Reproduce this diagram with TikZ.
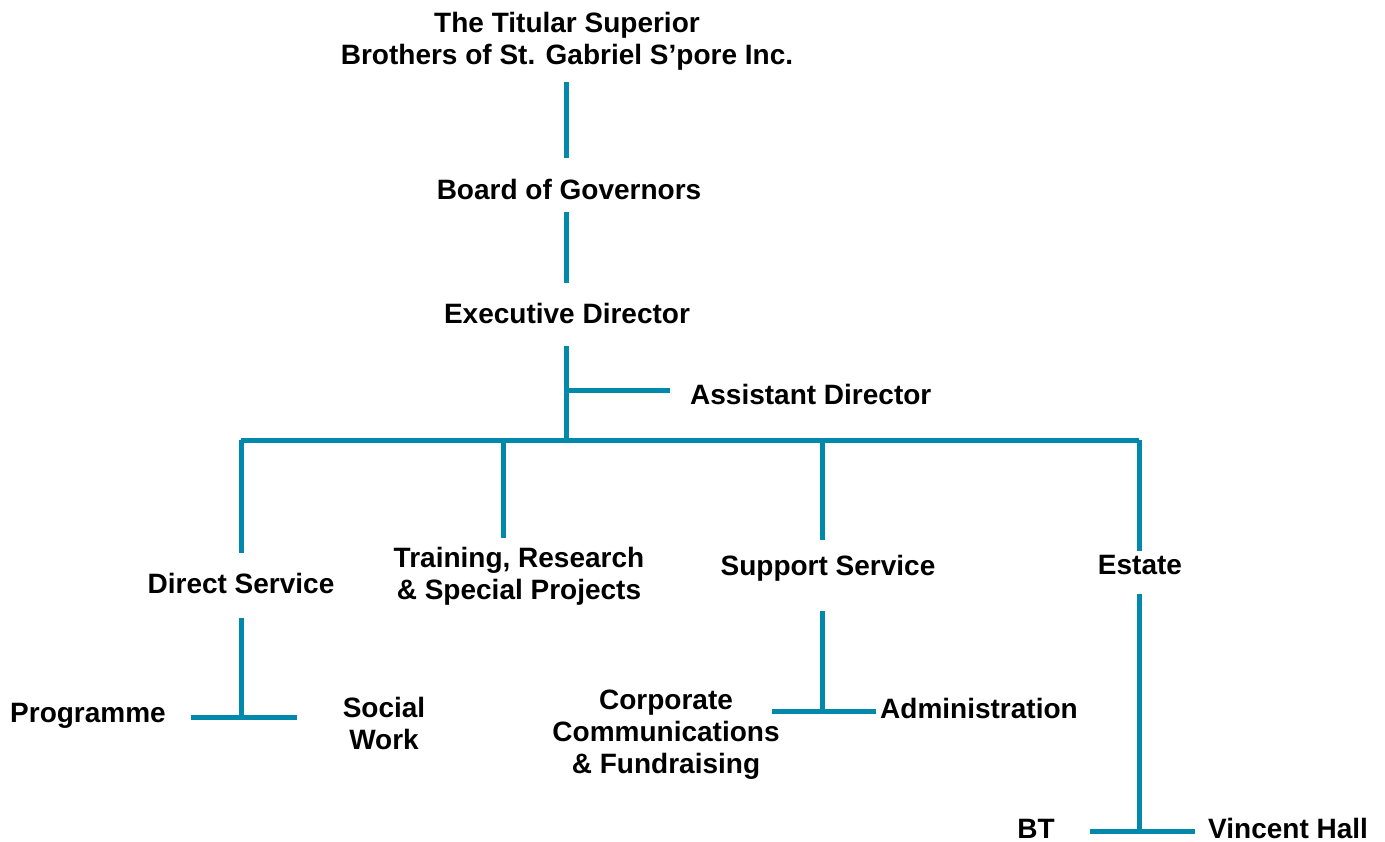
\documentclass[tikz,border=0pt]{standalone}
\usepackage{fontspec}
\setmainfont{Liberation Sans}[BoldFont={Liberation Sans Bold}]
\definecolor{linec}{RGB}{0,137,171}
\begin{document}
\begin{tikzpicture}[x=1pt,y=-1pt,
  lbl/.style={font=\bfseries\fontsize{28}{32}\selectfont, inner sep=0pt, align=center, text depth=0pt},
  conn/.style={draw=linec, line width=5pt}]
\useasboundingbox (0,0) rectangle (1385,842);
% text nodes
\node[lbl] (tit) at (567,38) {The Titular Superior\\Brothers of St. Gabriel S’pore Inc.};
\node[lbl] (bog) at (569,189) {Board of Governors};
\node[lbl] (ed) at (567,313) {Executive Director};
\node[lbl, anchor=west] (ad) at (690,394) {Assistant Director};
\node[lbl] (ds) at (241,583) {Direct Service};
\node[lbl] (trs) at (519,573) {Training, Research\\\& Special Projects};
\node[lbl] (ss) at (828,565) {Support Service};
\node[lbl] (est) at (1140,565) {Estate};
\node[lbl, anchor=west] (prog) at (10,713) {Programme};
\node[lbl] (sw) at (384,723) {Social\\Work};
\node[lbl] (ccf) at (666,732) {Corporate\\Communications\\\& Fundraising};
\node[lbl, anchor=west] (adm) at (880,708) {Administration};
\node[lbl] (bt) at (1036,829) {BT};
\node[lbl, anchor=west] (vh) at (1208,828) {Vincent Hall};
% coordinates
\coordinate (t1) at (566,82);
\coordinate (t2) at (566,158);
\coordinate (b1) at (566,212);
\coordinate (b2) at (566,283);
\coordinate (e1) at (566,346);
\coordinate (e2) at (566,440);
\coordinate (aj) at (566,391);
\coordinate (a2) at (670,391);
\coordinate (hL) at (241,440);
\coordinate (hR) at (1139,440);
\coordinate (hT) at (503,440);
\coordinate (hS) at (822,440);
\coordinate (dsT) at (241,553);
\coordinate (trT) at (503,538);
\coordinate (ssT) at (822,540);
\coordinate (esT) at (1139,551);
\coordinate (dsB) at (241,618);
\coordinate (dsJ) at (241,717);
\coordinate (pL) at (191,717);
\coordinate (sR) at (297,717);
\coordinate (ssB) at (822,611);
\coordinate (ssJ) at (822,711);
\coordinate (cL) at (772,711);
\coordinate (aR) at (876,711);
\coordinate (esB) at (1139,594);
\coordinate (esJ) at (1139,831);
\coordinate (btR) at (1090,831);
\coordinate (vhL) at (1195,831);
% connectors
\draw[conn] (t1) -- (t2);
\draw[conn] (b1) -- (b2);
\draw[conn] (e1) -- (e2);
\draw[conn] (aj) -- (a2);
\draw[conn] (hL) -- (hR);
\draw[conn] (hL) -- (dsT);
\draw[conn] (hT) -- (trT);
\draw[conn] (hS) -- (ssT);
\draw[conn] (hR) -- (esT);
\draw[conn] (dsB) -- (dsJ);
\draw[conn] (pL) -- (sR);
\draw[conn] (ssB) -- (ssJ);
\draw[conn] (cL) -- (aR);
\draw[conn] (esB) -- (esJ);
\draw[conn] (btR) -- (vhL);
\end{tikzpicture}
\end{document}
